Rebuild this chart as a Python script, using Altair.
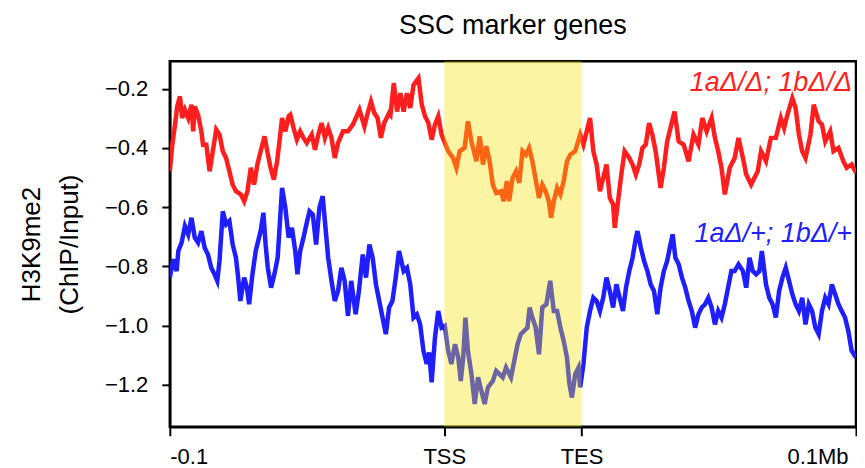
import altair as alt
import pandas as pd

# ---------------- data ----------------
# x: position (upstream -100..0 kb, gene body TSS=0..TES=50, downstream 50..150)
red_x = [-100.0, -99.1, -98.1, -97.3, -96.3, -95.5, -94.5, -93.3, -92.1, -91.5, -90.9, -89.7, -88.5, -87.9, -86.7,
         -85.5, -84.9, -83.1, -81.9, -80.7, -79.5, -78.3, -77.1, -75.9, -74.1, -72.9, -71.7, -70.5, -69.3, -68.1,
         -66.9, -65.5, -64.5, -63.3, -62.1, -60.9, -59.9, -59.1, -57.9, -56.7, -56.1, -54.9, -53.7, -52.5, -51.3,
         -50.1, -48.3, -47.1, -45.9, -44.7, -43.5, -42.3, -41.1, -39.9, -38.7, -36.9, -35.1, -33.3, -30.9, -29.1,
         -27.9, -26.7, -25.5, -24.3, -23.1, -21.9, -20.1,
         -19.6, -18.4, -17.2, -16.0, -14.8, -13.6, -12.4, -11.2, -9.4, -8.2, -7.0, -5.8, -4.6, -3.4, -2.2, -1.0,
         0.2, 1.4, 3.2, 4.4, 5.6, 7.4, 8.6, 9.9, 11.7, 12.9, 14.1, 15.3, 16.5, 17.7, 18.9, 20.7, 21.6, 22.8, 23.6,
         24.9, 26.1, 27.3, 28.5, 29.7, 30.9, 32.1, 33.3, 34.5, 35.7, 36.9, 38.1, 38.9, 39.9, 41.1, 42.3, 43.5, 44.7,
         45.9, 47.7, 49.5, 50.7, 51.9, 53.1, 54.3, 55.5, 56.7, 57.9, 59.1, 60.3, 61.5, 62.1, 63.3, 64.5, 65.7,
         67.4, 68.6, 69.8, 71.0, 72.2, 73.4, 74.6, 75.8, 77.0, 78.8, 80.0, 81.2, 82.4, 83.9, 85.4, 87.2, 89.0, 90.8,
         92.6, 94.0, 95.6, 97.4, 98.6, 99.8, 101.0, 102.2, 104.0, 105.8, 107.2, 108.8, 110.0, 111.8, 113.0, 114.2,
         115.4, 117.2, 119.0, 120.8, 122.6, 123.8, 125.0, 126.8, 128.0, 129.2, 130.4, 131.6, 133.4, 134.6, 136.4,
         137.6, 138.8, 140.6, 141.8, 143.6, 145.4, 146.6, 148.4, 150.0]
red_y = [-0.479, -0.389, -0.321, -0.260, -0.226, -0.299, -0.271, -0.299, -0.254, -0.344, -0.260, -0.288, -0.344,
         -0.389, -0.389, -0.479, -0.445, -0.338, -0.355, -0.411, -0.434, -0.479, -0.524, -0.546, -0.557, -0.580,
         -0.546, -0.467, -0.524, -0.456, -0.411, -0.361, -0.411, -0.467, -0.507, -0.445, -0.366, -0.299, -0.344,
         -0.293, -0.288, -0.333, -0.372, -0.344, -0.366, -0.383, -0.355, -0.406, -0.355, -0.316, -0.366, -0.333,
         -0.366, -0.434, -0.383, -0.344, -0.344, -0.321, -0.271, -0.327, -0.282, -0.243, -0.282, -0.299, -0.366,
         -0.316, -0.282,
         -0.288, -0.181, -0.277, -0.215, -0.277, -0.215, -0.265, -0.187, -0.164, -0.254, -0.293, -0.316, -0.372,
         -0.321, -0.293, -0.355, -0.383, -0.411, -0.434, -0.467, -0.411, -0.400, -0.310, -0.378, -0.445, -0.361,
         -0.456, -0.394, -0.445, -0.524, -0.552, -0.546, -0.580, -0.512, -0.580, -0.501, -0.479, -0.518, -0.411,
         -0.423, -0.400, -0.445, -0.507, -0.569, -0.524, -0.546, -0.580, -0.636, -0.580, -0.535, -0.557, -0.512,
         -0.445, -0.423, -0.411, -0.355, -0.389, -0.344, -0.299, -0.411, -0.456, -0.546, -0.501, -0.456, -0.569,
         -0.591, -0.670, -0.580, -0.490, -0.411,
         -0.434, -0.456, -0.490, -0.456, -0.400, -0.389, -0.316, -0.355, -0.411, -0.535, -0.467, -0.378, -0.333,
         -0.277, -0.378, -0.389, -0.445, -0.355, -0.389, -0.299, -0.344, -0.299, -0.366, -0.411, -0.467, -0.557,
         -0.467, -0.434, -0.366, -0.434, -0.490, -0.524, -0.501, -0.479, -0.411, -0.445, -0.366, -0.366, -0.299,
         -0.333, -0.288, -0.232, -0.265, -0.355, -0.411, -0.434, -0.355, -0.254, -0.310, -0.321, -0.378, -0.344,
         -0.411, -0.400, -0.445, -0.467, -0.456, -0.484]

blue_x = [-100.0, -98.7, -97.5, -96.9, -95.7, -94.5, -93.3, -92.1, -90.9, -89.7, -88.5, -87.3, -86.1, -84.9, -83.7,
          -82.7, -81.9, -80.7, -79.5, -78.3, -77.1, -75.9, -75.1, -74.3, -72.9, -71.9, -71.1, -69.9, -68.7, -67.5,
          -66.9, -65.9, -65.1, -64.3, -63.1, -61.9, -60.7, -59.1, -57.9, -56.7, -55.5, -54.3, -53.5, -52.5, -51.3,
          -50.1, -49.1, -47.9, -46.7, -45.5, -44.3, -43.5, -42.3, -41.1, -39.9, -38.7, -37.5, -36.3, -35.1, -33.9,
          -32.3, -31.1, -29.7, -28.5, -27.3, -26.1, -24.9, -23.7, -22.5, -21.3, -20.1, -18.9, -17.7, -16.5,
          -14.8, -13.6, -12.4, -11.2, -10.0, -8.8, -7.6, -6.4, -5.5, -4.6, -3.4, -2.2, -1.0, 0.2, 1.4, 2.6, 3.9,
          5.1, 6.0, 6.9, 7.7, 8.6, 9.9, 11.1, 12.3, 13.5, 14.7, 15.9, 17.7, 18.9, 20.1, 21.3, 22.5, 24.3, 25.5,
          26.7, 27.9, 29.1, 30.3, 31.1, 32.1, 33.3, 34.5, 35.7, 37.2, 38.6, 39.9, 41.1, 42.3, 43.5, 44.7, 45.6,
          46.5, 47.7, 48.9, 49.5, 50.7, 51.9, 53.1, 54.3, 55.5, 56.7, 57.9, 59.1, 60.3, 61.5, 62.7, 63.9, 65.1,
          66.2, 67.4, 68.6, 69.8, 70.4, 71.6, 72.8, 74.0, 75.2, 76.4, 77.6, 78.8, 80.0, 81.2, 82.4, 83.2, 84.2,
          85.4, 86.6, 87.8, 89.0, 90.2, 91.4, 92.6, 93.8, 95.0, 96.2, 97.4, 98.6, 99.8, 101.0, 102.2, 103.4, 104.6,
          105.8, 107.2, 108.8, 110.0, 111.2, 112.4, 113.6, 114.8, 115.7, 117.2, 118.4, 119.6, 120.8, 122.0, 123.2,
          124.4, 125.6, 126.8, 128.0, 129.2, 130.4, 131.6, 132.8, 134.0, 135.2, 136.4, 137.6, 138.8, 140.0, 141.2,
          142.4, 143.6, 144.8, 146.0, 147.2, 148.4, 150.0]
blue_y = [-0.838, -0.776, -0.816, -0.748, -0.720, -0.664, -0.692, -0.636, -0.703, -0.720, -0.681, -0.737, -0.760,
          -0.805, -0.827, -0.849, -0.782, -0.614, -0.658, -0.647, -0.726, -0.771, -0.838, -0.917, -0.838, -0.872,
          -0.928, -0.827, -0.748, -0.703, -0.681, -0.619, -0.726, -0.805, -0.872, -0.827, -0.771, -0.535, -0.602,
          -0.703, -0.670, -0.748, -0.827, -0.748, -0.703, -0.653, -0.614, -0.625, -0.726, -0.602, -0.563, -0.647,
          -0.771, -0.849, -0.917, -0.883, -0.805, -0.849, -0.967, -0.849, -0.962, -0.883, -0.760, -0.838, -0.726,
          -0.771, -0.861, -0.917, -0.973, -1.029, -0.939, -0.917, -0.838, -0.748,
          -0.816, -0.805, -0.861, -0.973, -0.962, -0.996, -1.085, -1.130, -1.091, -1.192, -1.041, -0.951, -1.007,
          -1.001, -1.085, -1.130, -1.063, -1.108, -1.187, -1.108, -0.973, -1.085, -1.164, -1.265, -1.175, -1.220,
          -1.265, -1.209, -1.187, -1.153, -1.164, -1.175, -1.142, -1.175, -1.119, -1.063, -1.029, -1.018, -1.007,
          -0.939, -0.973, -1.007, -1.097, -0.939, -0.928, -0.849, -0.951, -0.951, -1.007, -1.052, -1.108, -1.198,
          -1.243, -1.164, -1.142, -1.209, -1.130, -1.007, -0.951, -0.906, -0.917, -0.951, -0.906, -0.838, -0.883,
          -0.939, -0.861, -0.906, -0.951,
          -0.872, -0.816, -0.771, -0.703, -0.681, -0.737, -0.782, -0.816, -0.861, -0.883, -0.962, -0.872, -0.816,
          -0.782, -0.726, -0.692, -0.771, -0.793, -0.838, -0.872, -0.917, -0.951, -1.007, -0.962, -0.939, -0.928,
          -0.906, -0.939, -0.996, -0.951, -0.973, -0.928, -0.872, -0.816, -0.816, -0.793, -0.816, -0.872, -0.771,
          -0.816, -0.827, -0.816, -0.748, -0.861, -0.906, -0.928, -0.973, -0.883, -0.838, -0.805, -0.849, -0.894,
          -0.928, -0.951, -0.906, -0.996, -0.928, -0.951, -1.007, -1.029, -0.951, -0.906, -0.928, -0.861, -0.894,
          -0.928, -0.951, -0.973, -1.018, -1.085, -1.108]

series_names = ["1aΔ/Δ; 1bΔ/Δ", "1aΔ/+; 1bΔ/+"]
series_colors = ["#FF1E1E", "#1E1EFF"]

tick_values = [-100, 0, 50, 150]
tick_labels = ["-0.1", "TSS", "TES", "0.1Mb"]
y_ticks = [-1.2, -1.0, -0.8, -0.6, -0.4, -0.2]

gene_body_start = [0]
gene_body_end = [50]

assert len(red_x) == len(red_y), (len(red_x), len(red_y))
assert len(blue_x) == len(blue_y), (len(blue_x), len(blue_y))

df = pd.concat([
    pd.DataFrame({"x": red_x, "y": red_y, "series": series_names[0]}),
    pd.DataFrame({"x": blue_x, "y": blue_y, "series": series_names[1]}),
])
region = pd.DataFrame({"start": gene_body_start, "end": gene_body_end})
labels_df = pd.DataFrame({"label": series_names, "color": series_colors})

FONT = "Liberation Sans"
W, H = 687, 366

label_expr = " : ".join(
    f"datum.value == {v} ? '{l}'" for v, l in zip(tick_values[:-1], tick_labels[:-1])
) + f" : '{tick_labels[-1]}'"

x_enc = alt.X(
    "x:Q",
    scale=alt.Scale(domain=[-100, 150], nice=False, zero=False),
    axis=alt.Axis(
        values=tick_values,
        labelExpr=label_expr,
        title=None,
        grid=False,
        labelFontSize=22,
        labelPadding=11,
        tickSize=9,
        labelAlign={"condition": [
            {"test": f"datum.value == {tick_values[0]}", "value": "left"},
            {"test": f"datum.value == {tick_values[-1]}", "value": "right"},
        ], "value": "center"},
        labelOffset={"condition": {"test": f"datum.value == {tick_values[-1]}", "value": -8}, "value": 0},
    ),
)
y_enc = alt.Y(
    "y:Q",
    scale=alt.Scale(domain=[-1.342, -0.107], nice=False, zero=False),
    axis=alt.Axis(
        values=y_ticks,
        labelExpr="replace(format(datum.value, '.1f'), '-', '\u2212')",
        title=["H3K9me2", "(ChIP/Input)"],
        titleFontSize=26,
        titleFontWeight="normal",
        titleLineHeight=38,
        titlePadding=22,
        grid=False,
        labelFontSize=22,
        labelPadding=14,
        tickSize=8,
    ),
)

lines = alt.Chart(df).mark_line(strokeWidth=4.5, clip=True, strokeJoin="miter").encode(
    x=x_enc,
    y=y_enc,
    color=alt.Color("series:N", scale=alt.Scale(domain=series_names, range=series_colors), legend=None),
    detail="series:N",
)

shade = alt.Chart(region).mark_rect(color="#F5E300", opacity=0.36).encode(
    x="start:Q", x2="end:Q", y=alt.value(0), y2=alt.value(H)
)

text_red = alt.Chart(labels_df.iloc[[0]]).mark_text(
    align="right", baseline="alphabetic", fontSize=27, fontStyle="italic", font=FONT, color=series_colors[0]
).encode(text="label:N", x=alt.value(W - 4), y=alt.value(30))

text_blue = alt.Chart(labels_df.iloc[[1]]).mark_text(
    align="right", baseline="alphabetic", fontSize=27, fontStyle="italic", font=FONT, color=series_colors[1]
).encode(text="label:N", x=alt.value(W - 4), y=alt.value(181))

chart = alt.layer(lines, shade, text_red, text_blue).properties(
    width=W,
    height=H,
    title=alt.TitleParams("SSC marker genes", fontSize=27, font=FONT, fontWeight="normal", color="black", offset=21),
    padding={"left": 10, "top": 4, "right": 0, "bottom": 0},
).configure_view(
    stroke="black", strokeWidth=2.5
).configure_axis(
    domainColor="black", domainWidth=2.5, tickColor="black", tickWidth=2,
    labelColor="black", titleColor="black", labelFont=FONT, titleFont=FONT,
)

chart.save("out.html", embed_options={"renderer": "svg", "actions": False})
